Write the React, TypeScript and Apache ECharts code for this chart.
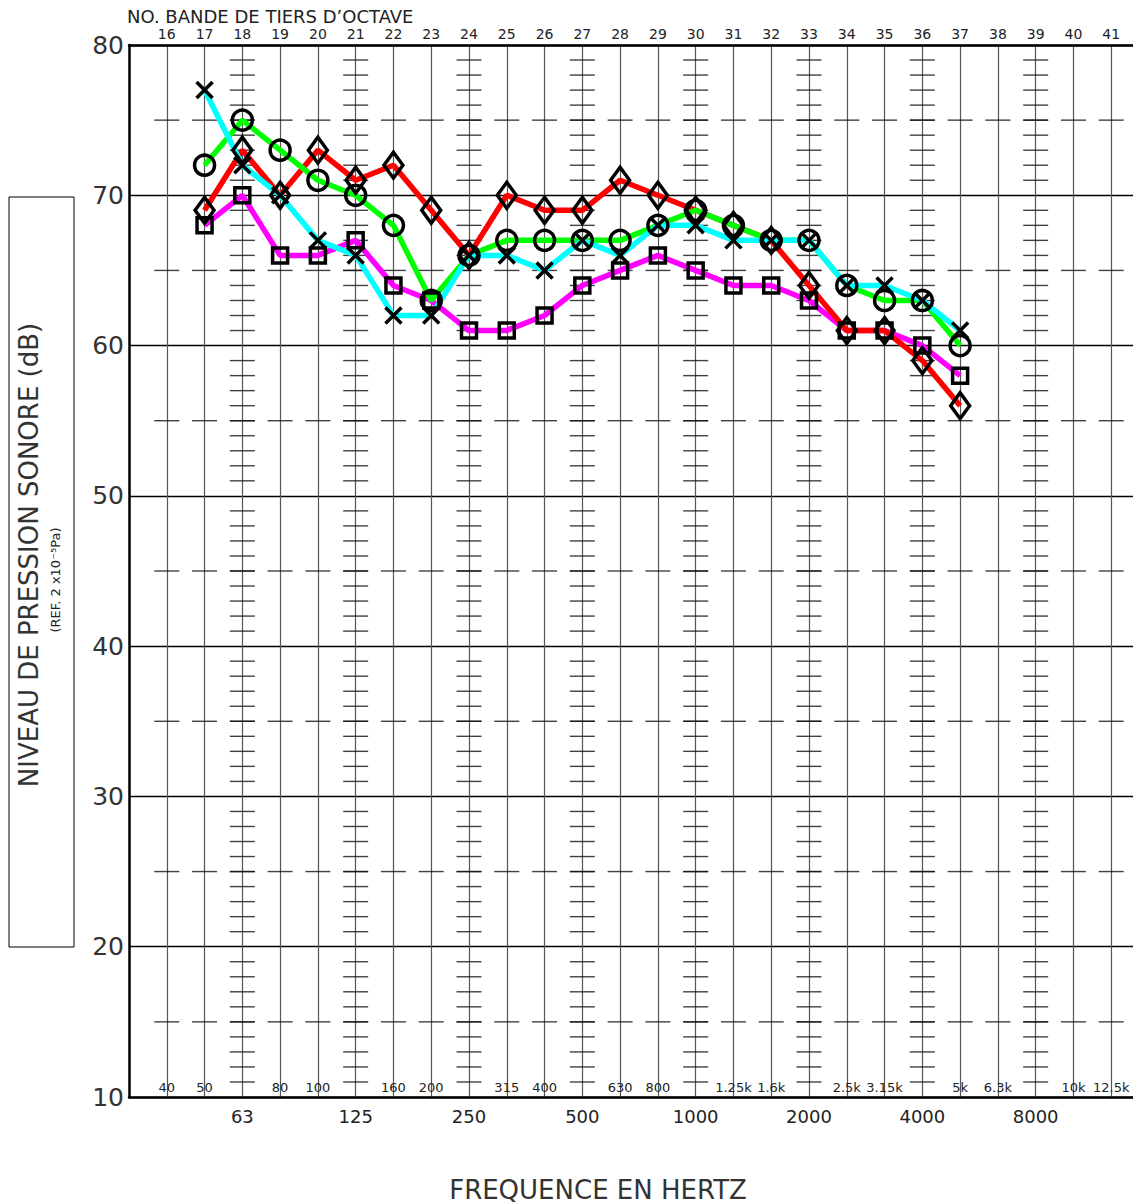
import React, { useEffect, useRef } from "react";
import * as echarts from "echarts";

// ---- data ----
const bandNumbers = [16, 17, 18, 19, 20, 21, 22, 23, 24, 25, 26, 27, 28, 29, 30, 31, 32, 33, 34, 35, 36, 37, 38, 39, 40, 41];
const bandFreqLabels = ["40", "50", "63", "80", "100", "125", "160", "200", "250", "315", "400", "500", "630", "800", "1000", "1.25k", "1.6k", "2000", "2.5k", "3.15k", "4000", "5k", "6.3k", "8000", "10k", "12.5k"];
const octaveBands = [18, 21, 24, 27, 30, 33, 36, 39];
const yTickLabels = [10, 20, 30, 40, 50, 60, 70, 80];
const fiveDbMarks = [15, 25, 35, 45, 55, 65, 75];
const oneDbMarks = [
  11, 12, 13, 14, 15, 16, 17, 18, 19,
  21, 22, 23, 24, 25, 26, 27, 28, 29,
  31, 32, 33, 34, 35, 36, 37, 38, 39,
  41, 42, 43, 44, 45, 46, 47, 48, 49,
  51, 52, 53, 54, 55, 56, 57, 58, 59,
  61, 62, 63, 64, 65, 66, 67, 68, 69,
  71, 72, 73, 74, 75, 76, 77, 78, 79,
];

const dataBands = [17, 18, 19, 20, 21, 22, 23, 24, 25, 26, 27, 28, 29, 30, 31, 32, 33, 34, 35, 36, 37];
const cyanValues = [77, 72, 70, 67, 66, 62, 62, 66, 66, 65, 67, 66, 68, 68, 67, 67, 67, 64, 64, 63, 61];
const greenValues = [72, 75, 73, 71, 70, 68, 63, 66, 67, 67, 67, 67, 68, 69, 68, 67, 67, 64, 63, 63, 60];
const redValues = [69, 73, 70, 73, 71, 72, 69, 66, 70, 69, 69, 71, 70, 69, 68, 67, 64, 61, 61, 59, 56];
const magentaValues = [68, 70, 66, 66, 67, 64, 63, 61, 61, 62, 64, 65, 66, 65, 64, 64, 63, 61, 61, 60, 58];

const FONT = "DejaVu Sans";
const X_MIN = 15;
const X_MAX = 42;

const isInt = (v: number) => Math.abs(v - Math.round(v)) < 1e-6;

export default function App() {
  const ref = useRef<HTMLDivElement>(null);

  useEffect(() => {
    if (!ref.current) return;
    const chart = echarts.init(ref.current, undefined, { renderer: "svg" });

    const pairs = (vals: number[]) => dataBands.map((b, i) => [b, vals[i]]);

    const fiveData: number[][] = [];
    bandNumbers.forEach((b) => fiveDbMarks.forEach((v) => fiveData.push([b, v])));
    const oneData: number[][] = [];
    octaveBands.forEach((b) => oneDbMarks.forEach((v) => oneData.push([b, v])));

    const lineSeries = (name: string, vals: number[], color: string, z: number) => ({
      name,
      type: "line",
      data: pairs(vals),
      showSymbol: false,
      symbol: "none",
      lineStyle: { color, width: 5.5 },
      itemStyle: { color },
      z,
      silent: true,
    });
    const markerSeries = (name: string, vals: number[], symbol: string, size: any) => ({
      name: name + "_m",
      type: "scatter",
      data: pairs(vals),
      symbol,
      symbolSize: size,
      itemStyle: { color: "rgba(0,0,0,0)", borderColor: "#000", borderWidth: 3.5, opacity: 1 },
      z: 10,
      silent: true,
    });

    const option: any = {
      animation: false,
      backgroundColor: "#fff",
      grid: { left: 129, top: 45, width: 1020, height: 1052, containLabel: false, outerBoundsMode: "none" },
      xAxis: [
        {
          type: "value",
          position: "bottom",
          min: X_MIN,
          max: X_MAX,
          interval: 1,
          axisLine: { show: true, onZero: false, lineStyle: { color: "#000", width: 2.5 } },
          axisTick: { show: false },
          splitLine: { show: true, lineStyle: { color: "#555", width: 1.2 } },
          axisLabel: {
            inside: true,
            margin: 3,
            fontSize: 13,
            fontFamily: FONT,
            color: "#222",
            formatter: (v: number) => {
              if (!isInt(v)) return "";
              const b = Math.round(v);
              const idx = bandNumbers.indexOf(b);
              if (idx < 0 || octaveBands.includes(b)) return "";
              return bandFreqLabels[idx];
            },
          },
        },
        {
          type: "value",
          position: "top",
          min: X_MIN,
          max: X_MAX,
          interval: 1,
          axisLine: { show: true, onZero: false, lineStyle: { color: "#000", width: 2.5 } },
          axisTick: { show: false },
          splitLine: { show: false },
          axisLabel: {
            margin: 4,
            fontSize: 14,
            fontFamily: FONT,
            color: "#222",
            formatter: (v: number) => {
              if (!isInt(v)) return "";
              const b = Math.round(v);
              return bandNumbers.includes(b) ? String(b) : "";
            },
          },
        },
        {
          type: "value",
          position: "bottom",
          min: X_MIN,
          max: X_MAX,
          interval: 1,
          axisLine: { show: false },
          axisTick: { show: false },
          splitLine: { show: false },
          axisLabel: {
            margin: 10,
            fontSize: 18,
            fontFamily: FONT,
            color: "#222",
            formatter: (v: number) => {
              if (!isInt(v)) return "";
              const b = Math.round(v);
              if (!octaveBands.includes(b)) return "";
              return bandFreqLabels[bandNumbers.indexOf(b)];
            },
          },
        },
      ],
      yAxis: {
        type: "value",
        min: yTickLabels[0],
        max: yTickLabels[yTickLabels.length - 1],
        interval: 10,
        axisLine: { show: true, onZero: false, lineStyle: { color: "#000", width: 2.5 } },
        axisTick: { show: false },
        splitLine: { show: true, lineStyle: { color: "#000", width: 1.3 } },
        axisLabel: { margin: 5, fontSize: 25, fontFamily: FONT, color: "#333" },
      },
      graphic: [
        {
          type: "text",
          left: 127,
          top: 7,
          style: { text: "NO. BANDE DE TIERS D’OCTAVE", fontSize: 18, fontFamily: FONT, fill: "#222" },
        },
        {
          type: "rect",
          shape: { x: 9, y: 197, width: 65, height: 750 },
          style: { fill: "none", stroke: "#000", lineWidth: 1 },
        },
        {
          type: "text",
          x: 29,
          y: 555,
          rotation: Math.PI / 2,
          style: {
            text: "NIVEAU DE PRESSION SONORE (dB)",
            fontSize: 26,
            fontFamily: FONT,
            fill: "#333",
            align: "center",
            verticalAlign: "middle",
          },
        },
        {
          type: "text",
          x: 55,
          y: 580,
          rotation: Math.PI / 2,
          style: {
            text: "(REF. 2 x10⁻⁵Pa)",
            fontSize: 13,
            fontFamily: FONT,
            fill: "#222",
            align: "center",
            verticalAlign: "middle",
          },
        },
        {
          type: "text",
          x: 598,
          y: 1190,
          style: {
            text: "FREQUENCE EN HERTZ",
            fontSize: 26,
            fontFamily: FONT,
            fill: "#333",
            align: "center",
            verticalAlign: "middle",
          },
        },
      ],
      series: [
        {
          name: "fiveDb",
          type: "scatter",
          data: fiveData,
          symbol: "rect",
          symbolSize: [25, 1.4],
          itemStyle: { color: "#111" },
          silent: true,
          z: 1,
        },
        {
          name: "oneDb",
          type: "scatter",
          data: oneData,
          symbol: "rect",
          symbolSize: [25, 1.4],
          itemStyle: { color: "#111" },
          silent: true,
          z: 1,
        },
        lineSeries("magenta", magentaValues, "#ff00ff", 3),
        lineSeries("red", redValues, "#ff0000", 4),
        lineSeries("green", greenValues, "#00ff00", 5),
        lineSeries("cyan", cyanValues, "#00ffff", 6),
        markerSeries("magenta", magentaValues, "rect", 15),
        markerSeries("red", redValues, "diamond", [19, 26]),
        markerSeries("green", greenValues, "circle", 20),
        markerSeries("cyan", cyanValues, "path://M0 0L20 20M20 0L0 20", 16),
      ],
    };

    chart.setOption(option);
    return () => chart.dispose();
  }, []);

  return (
    <div
      ref={ref}
      style={{ position: "fixed", left: 0, top: 0, width: 1133, height: 1204, background: "#fff" }}
    />
  );
}
